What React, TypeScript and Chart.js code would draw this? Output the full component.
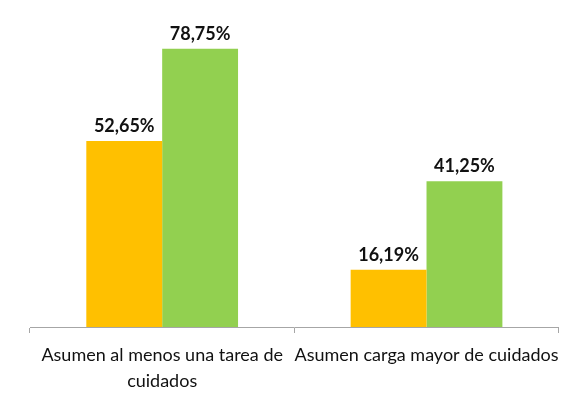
import React, { useEffect, useRef } from "react";
import { Chart, registerables } from "chart.js";

Chart.register(...registerables);

const categories: (string | string[])[] = [
  ["Asumen al menos una tarea de", "cuidados"],
  "Asumen carga mayor de cuidados",
];
const seriesA: number[] = [52.65, 16.19];
const seriesB: number[] = [78.75, 41.25];
const colorA = "#FFC000";
const colorB = "#92D050";

const fmt = (v: number) => v.toFixed(2).replace(".", ",") + "%";

const labelPlugin = {
  id: "valueLabels",
  afterDatasetsDraw(chart: any) {
    const ctx = chart.ctx;
    ctx.save();
    ctx.font = "bold 18px Lato";
    ctx.fillStyle = "#111";
    ctx.textAlign = "center";
    ctx.textBaseline = "alphabetic";
    chart.data.datasets.forEach((ds: any, di: number) => {
      const meta = chart.getDatasetMeta(di);
      meta.data.forEach((bar: any, i: number) => {
        ctx.fillText(fmt(ds.data[i]), bar.x, bar.y - 9);
      });
    });
    ctx.restore();
  },
};

export default function App() {
  const ref = useRef<HTMLCanvasElement | null>(null);
  useEffect(() => {
    if (!ref.current) return;
    const chart = new Chart(ref.current, {
      type: "bar",
      data: {
        labels: categories,
        datasets: [
          { label: "A", data: seriesA, backgroundColor: colorA, borderWidth: 0 },
          { label: "B", data: seriesB, backgroundColor: colorB, borderWidth: 0 },
        ],
      },
      options: {
        responsive: false,
        animation: false,
        layout: { padding: { left: 30, right: 10, top: 9, bottom: 0 } },
        plugins: { legend: { display: false }, tooltip: { enabled: false } },
        datasets: { bar: { categoryPercentage: 0.574, barPercentage: 1 } },
        scales: {
          x: {
            grid: {
              display: true,
              drawOnChartArea: false,
              drawTicks: true,
              tickLength: 6,
              color: "#a6a6a6",
              offset: true,
            },
            border: { display: true, color: "#a6a6a6", width: 1 },
            ticks: {
              autoSkip: false,
              maxRotation: 0,
              minRotation: 0,
              padding: 9,
              color: "#111",
              font: { family: "Lato", size: 18, lineHeight: 1.44 },
            },
            afterFit: (scale: any) => {
              scale.height = 69;
            },
          },
          y: {
            display: false,
            min: 0,
            max: 90,
          },
        },
      },
      plugins: [labelPlugin],
    });
    return () => chart.destroy();
  }, []);
  return (
    <div style={{ position: "fixed", left: 0, top: 0, width: 570, height: 396, background: "#fff" }}>
      <canvas ref={ref} width={570} height={396} />
    </div>
  );
}
